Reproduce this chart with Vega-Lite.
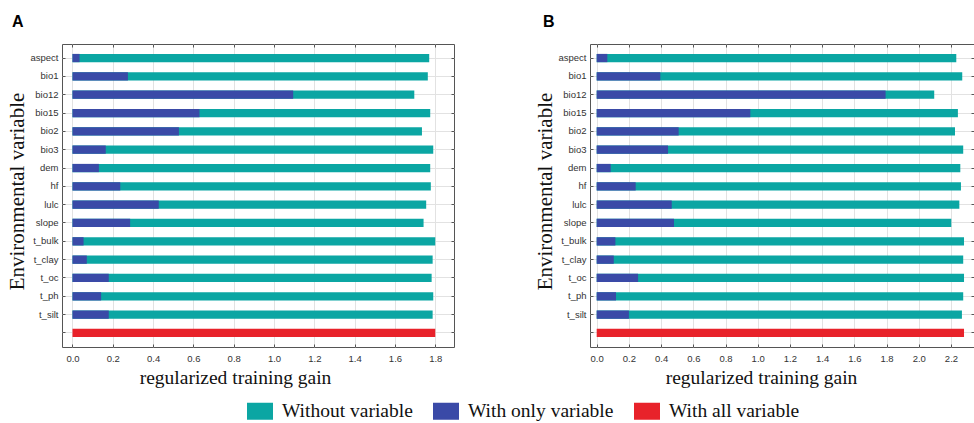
{
  "$schema": "https://vega.github.io/schema/vega-lite/v6.json",
  "padding": {"left": 5, "top": 13, "right": 0, "bottom": 0},
  "autosize": {"type": "pad"},
  "background": "white",
  "bounds": "flush",
  "spacing": 136,
  "data": {"values": [
    {"panel": "A", "variable": "aspect", "type": "Without variable", "gain": 1.770},
    {"panel": "A", "variable": "aspect", "type": "With only variable", "gain": 0.035},
    {"panel": "A", "variable": "bio1", "type": "Without variable", "gain": 1.763},
    {"panel": "A", "variable": "bio1", "type": "With only variable", "gain": 0.275},
    {"panel": "A", "variable": "bio12", "type": "Without variable", "gain": 1.696},
    {"panel": "A", "variable": "bio12", "type": "With only variable", "gain": 1.095},
    {"panel": "A", "variable": "bio15", "type": "Without variable", "gain": 1.775},
    {"panel": "A", "variable": "bio15", "type": "With only variable", "gain": 0.630},
    {"panel": "A", "variable": "bio2", "type": "Without variable", "gain": 1.734},
    {"panel": "A", "variable": "bio2", "type": "With only variable", "gain": 0.528},
    {"panel": "A", "variable": "bio3", "type": "Without variable", "gain": 1.790},
    {"panel": "A", "variable": "bio3", "type": "With only variable", "gain": 0.165},
    {"panel": "A", "variable": "dem", "type": "Without variable", "gain": 1.775},
    {"panel": "A", "variable": "dem", "type": "With only variable", "gain": 0.131},
    {"panel": "A", "variable": "hf", "type": "Without variable", "gain": 1.778},
    {"panel": "A", "variable": "hf", "type": "With only variable", "gain": 0.237},
    {"panel": "A", "variable": "lulc", "type": "Without variable", "gain": 1.755},
    {"panel": "A", "variable": "lulc", "type": "With only variable", "gain": 0.428},
    {"panel": "A", "variable": "slope", "type": "Without variable", "gain": 1.742},
    {"panel": "A", "variable": "slope", "type": "With only variable", "gain": 0.286},
    {"panel": "A", "variable": "t_bulk", "type": "Without variable", "gain": 1.800},
    {"panel": "A", "variable": "t_bulk", "type": "With only variable", "gain": 0.055},
    {"panel": "A", "variable": "t_clay", "type": "Without variable", "gain": 1.787},
    {"panel": "A", "variable": "t_clay", "type": "With only variable", "gain": 0.071},
    {"panel": "A", "variable": "t_oc", "type": "Without variable", "gain": 1.782},
    {"panel": "A", "variable": "t_oc", "type": "With only variable", "gain": 0.180},
    {"panel": "A", "variable": "t_ph", "type": "Without variable", "gain": 1.790},
    {"panel": "A", "variable": "t_ph", "type": "With only variable", "gain": 0.142},
    {"panel": "A", "variable": "t_silt", "type": "Without variable", "gain": 1.787},
    {"panel": "A", "variable": "t_silt", "type": "With only variable", "gain": 0.180},
    {"panel": "A", "variable": "all", "type": "With all variable", "gain": 1.800},
    {"panel": "B", "variable": "aspect", "type": "Without variable", "gain": 2.233},
    {"panel": "B", "variable": "aspect", "type": "With only variable", "gain": 0.066},
    {"panel": "B", "variable": "bio1", "type": "Without variable", "gain": 2.270},
    {"panel": "B", "variable": "bio1", "type": "With only variable", "gain": 0.395},
    {"panel": "B", "variable": "bio12", "type": "Without variable", "gain": 2.096},
    {"panel": "B", "variable": "bio12", "type": "With only variable", "gain": 1.794},
    {"panel": "B", "variable": "bio15", "type": "Without variable", "gain": 2.243},
    {"panel": "B", "variable": "bio15", "type": "With only variable", "gain": 0.954},
    {"panel": "B", "variable": "bio2", "type": "Without variable", "gain": 2.225},
    {"panel": "B", "variable": "bio2", "type": "With only variable", "gain": 0.509},
    {"panel": "B", "variable": "bio3", "type": "Without variable", "gain": 2.276},
    {"panel": "B", "variable": "bio3", "type": "With only variable", "gain": 0.443},
    {"panel": "B", "variable": "dem", "type": "Without variable", "gain": 2.258},
    {"panel": "B", "variable": "dem", "type": "With only variable", "gain": 0.087},
    {"panel": "B", "variable": "hf", "type": "Without variable", "gain": 2.262},
    {"panel": "B", "variable": "hf", "type": "With only variable", "gain": 0.242},
    {"panel": "B", "variable": "lulc", "type": "Without variable", "gain": 2.252},
    {"panel": "B", "variable": "lulc", "type": "With only variable", "gain": 0.466},
    {"panel": "B", "variable": "slope", "type": "Without variable", "gain": 2.202},
    {"panel": "B", "variable": "slope", "type": "With only variable", "gain": 0.480},
    {"panel": "B", "variable": "t_bulk", "type": "Without variable", "gain": 2.281},
    {"panel": "B", "variable": "t_bulk", "type": "With only variable", "gain": 0.116},
    {"panel": "B", "variable": "t_clay", "type": "Without variable", "gain": 2.276},
    {"panel": "B", "variable": "t_clay", "type": "With only variable", "gain": 0.106},
    {"panel": "B", "variable": "t_oc", "type": "Without variable", "gain": 2.281},
    {"panel": "B", "variable": "t_oc", "type": "With only variable", "gain": 0.257},
    {"panel": "B", "variable": "t_ph", "type": "Without variable", "gain": 2.276},
    {"panel": "B", "variable": "t_ph", "type": "With only variable", "gain": 0.120},
    {"panel": "B", "variable": "t_silt", "type": "Without variable", "gain": 2.268},
    {"panel": "B", "variable": "t_silt", "type": "With only variable", "gain": 0.200},
    {"panel": "B", "variable": "all", "type": "With all variable", "gain": 2.281}
  ]},
  "config": {
    "view": {"stroke": "#555", "strokeWidth": 1},
    "axis": {
      "labelFont": "Liberation Sans", "labelFontSize": 9.5, "labelColor": "#333",
      "tickColor": "#555", "gridColor": "#e2e2e2", "domain": false,
      "titleFont": "Liberation Serif", "titleFontWeight": "normal", "titleColor": "#111"
    },
    "legend": {
      "labelFont": "Liberation Serif", "labelFontSize": 19.5, "labelColor": "#111",
      "symbolType": "M-1,-0.654L1,-0.654L1,0.654L-1,0.654Z", "symbolSize": 676, "symbolStrokeWidth": 0, "symbolOpacity": 1,
      "columnPadding": 20, "labelOffset": 9
    }
  },
  "hconcat": [
    {
      "width": 392, "height": 303,
      "title": {"text": "A", "anchor": "start", "frame": "group", "dx": -50, "offset": 14, "fontSize": 16, "fontWeight": "bold", "font": "Liberation Sans", "color": "#000"},
      "transform": [{"filter": "datum.panel == 'A'"}],
      "layer": [
        {
          "mark": {"type": "bar"},
          "encoding": {
            "y": {"field": "variable", "type": "nominal",
              "sort": ["aspect","bio1","bio12","bio15","bio2","bio3","dem","hf","lulc","slope","t_bulk","t_clay","t_oc","t_ph","t_silt","all"],
              "scale": {"paddingInner": 0.55, "paddingOuter": 0.54},
              "axis": {"title": "Environmental variable", "titleFontSize": 21, "titleX": -45, "titleY": 147, "titleAngle": -90, "titleBaseline": "middle", "titleAlign": "center",
                "labelExpr": "datum.value == 'all' ? '' : datum.value", "tickSize": -3, "labelPadding": 7, "grid": true}},
            "x": {"field": "gain", "type": "quantitative",
              "scale": {"domain": [-0.0521, 1.893], "nice": false, "zero": false},
              "axis": {"title": "regularized training gain", "titleFontSize": 19.5, "titleX": 173, "titleAlign": "center", "values": [0,0.2,0.4,0.6,0.8,1.0,1.2,1.4,1.6,1.8], "format": ".1f",
                "tickSize": -3, "labelPadding": 9, "titlePadding": 6, "grid": true}},
            "x2": {"datum": 0},
            "color": {"field": "type", "type": "nominal",
              "scale": {"domain": ["Without variable", "With only variable", "With all variable"], "range": ["#0ba6a3", "#3a4aa7", "#e8222a"]},
              "legend": {"orient": "none", "direction": "horizontal", "legendX": 185, "legendY": 354, "title": null}}
          }
        },
        {
          "mark": {"type": "point", "opacity": 0},
          "encoding": {
            "y": {"field": "variable", "type": "nominal",
              "sort": ["aspect","bio1","bio12","bio15","bio2","bio3","dem","hf","lulc","slope","t_bulk","t_clay","t_oc","t_ph","t_silt","all"],
              "axis": {"orient": "right", "labels": false, "title": null, "tickSize": -3, "grid": false}},
            "x": {"field": "gain", "type": "quantitative",
              "axis": {"orient": "top", "labels": false, "title": null, "values": [0,0.2,0.4,0.6,0.8,1.0,1.2,1.4,1.6,1.8], "tickSize": -3, "grid": false}}
          }
        }
      ],
      "resolve": {"axis": {"x": "independent", "y": "independent"}}
    },
    {
      "width": 384, "height": 303,
      "title": {"text": "B", "anchor": "start", "frame": "group", "dx": -47, "offset": 14, "fontSize": 16, "fontWeight": "bold", "font": "Liberation Sans", "color": "#000"},
      "transform": [{"filter": "datum.panel == 'B'"}],
      "layer": [
        {
          "mark": {"type": "bar"},
          "encoding": {
            "y": {"field": "variable", "type": "nominal",
              "sort": ["aspect","bio1","bio12","bio15","bio2","bio3","dem","hf","lulc","slope","t_bulk","t_clay","t_oc","t_ph","t_silt","all"],
              "scale": {"paddingInner": 0.55, "paddingOuter": 0.54},
              "axis": {"title": "Environmental variable", "titleFontSize": 21, "titleX": -45, "titleY": 147, "titleAngle": -90, "titleBaseline": "middle", "titleAlign": "center",
                "labelExpr": "datum.value == 'all' ? '' : datum.value", "tickSize": -3, "labelPadding": 7, "grid": true}},
            "x": {"field": "gain", "type": "quantitative",
              "scale": {"domain": [-0.0416, 2.343], "nice": false, "zero": false},
              "axis": {"title": "regularized training gain", "titleFontSize": 19.5, "titleX": 171, "titleAlign": "center", "values": [0,0.2,0.4,0.6,0.8,1.0,1.2,1.4,1.6,1.8,2.0,2.2], "format": ".1f",
                "tickSize": -3, "labelPadding": 9, "titlePadding": 6, "grid": true}},
            "x2": {"datum": 0},
            "color": {"field": "type", "type": "nominal",
              "scale": {"domain": ["Without variable", "With only variable", "With all variable"], "range": ["#0ba6a3", "#3a4aa7", "#e8222a"]},
              "legend": {"orient": "none", "direction": "horizontal", "legendX": 185, "legendY": 354, "title": null}}
          }
        },
        {
          "mark": {"type": "point", "opacity": 0},
          "encoding": {
            "y": {"field": "variable", "type": "nominal",
              "sort": ["aspect","bio1","bio12","bio15","bio2","bio3","dem","hf","lulc","slope","t_bulk","t_clay","t_oc","t_ph","t_silt","all"],
              "axis": {"orient": "right", "labels": false, "title": null, "tickSize": -3, "grid": false}},
            "x": {"field": "gain", "type": "quantitative",
              "axis": {"orient": "top", "labels": false, "title": null, "values": [0,0.2,0.4,0.6,0.8,1.0,1.2,1.4,1.6,1.8,2.0,2.2], "tickSize": -3, "grid": false}}
          }
        }
      ],
      "resolve": {"axis": {"x": "independent", "y": "independent"}}
    }
  ],
  "resolve": {"scale": {"color": "shared"}}
}
